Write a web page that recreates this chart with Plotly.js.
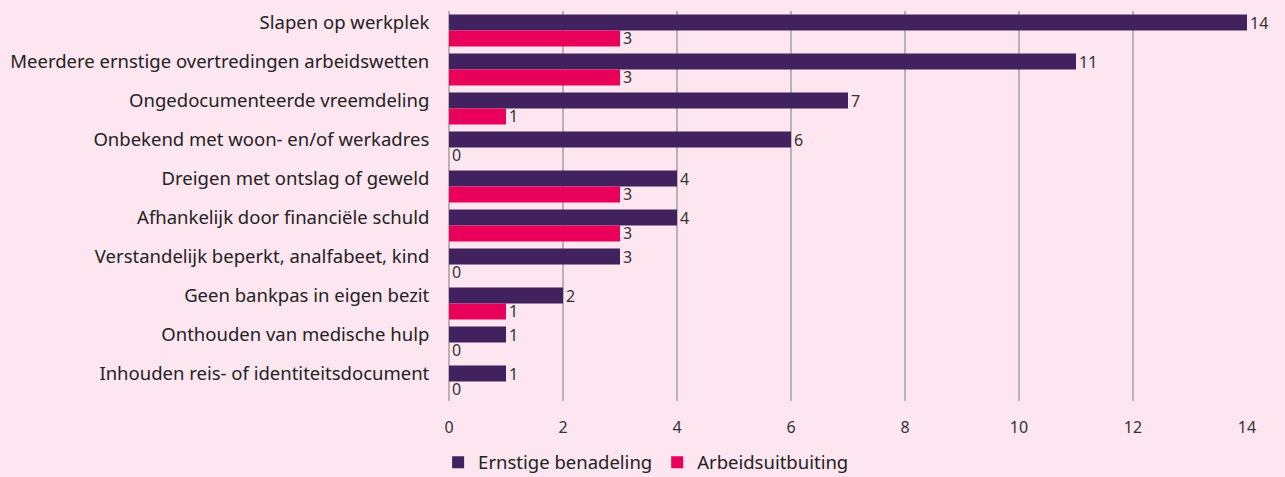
<!DOCTYPE html>
<html><head><meta charset="utf-8">
<script src="https://cdn.plot.ly/plotly-3.0.1.min.js"></script>
<style>html,body{margin:0;padding:0;background:#fde6ef;}</style>
</head><body>
<div id="chart" style="width:1285px;height:477px;"></div>
<script>
const categories = [
  "Slapen op werkplek",
  "Meerdere ernstige overtredingen arbeidswetten",
  "Ongedocumenteerde vreemdeling",
  "Onbekend met woon- en/of werkadres",
  "Dreigen met ontslag of geweld",
  "Afhankelijk door financiële schuld",
  "Verstandelijk beperkt, analfabeet, kind",
  "Geen bankpas in eigen bezit",
  "Onthouden van medische hulp",
  "Inhouden reis- of identiteitsdocument"
];
const ernstigeBenadeling = [14, 11, 7, 6, 4, 4, 3, 2, 1, 1];
const arbeidsuitbuiting = [3, 3, 1, 0, 3, 3, 0, 1, 0, 0];
const seriesNames = ["Ernstige benadeling", "Arbeidsuitbuiting"];
const xTicks = [0, 2, 4, 6, 8, 10, 12, 14];

const fontFam = "'Noto Sans', 'Open Sans', sans-serif";
const valFont = {size:16, color:'#333', family:fontFam};
const traces = [
  {type:'bar', orientation:'h', name:seriesNames[0], y:categories, x:ernstigeBenadeling,
   marker:{color:'#42215f'}, text:ernstigeBenadeling.map(String), textposition:'outside',
   constraintext:'none', cliponaxis:false, textfont:valFont, outsidetextfont:valFont},
  {type:'bar', orientation:'h', name:seriesNames[1], y:categories, x:arbeidsuitbuiting,
   marker:{color:'#e8005a'}, text:arbeidsuitbuiting.map(String), textposition:'outside',
   constraintext:'none', cliponaxis:false, textfont:valFont, outsidetextfont:valFont}
];
const layout = {
  width:1285, height:477,
  paper_bgcolor:'#fde6ef', plot_bgcolor:'#fde6ef',
  margin:{l:449, r:38, t:11, b:76, autoexpand:false},
  barmode:'group', bargap:0.18, bargroupgap:0,
  font:{family:fontFam, color:'#222', size:16},
  xaxis:{range:[0,14], tickvals:xTicks, ticktext:xTicks.map(String), showgrid:true,
         gridcolor:'#b9b1b6', gridwidth:1.5, zeroline:true, zerolinecolor:'#b9b1b6', zerolinewidth:1.5,
         tickfont:{size:16,color:'#333'}, ticks:'outside', ticklen:12, tickcolor:'rgba(0,0,0,0)', showline:false},
  yaxis:{autorange:'reversed', showgrid:false, ticks:'outside', ticklen:15, tickcolor:'rgba(0,0,0,0)',
         ticklabelshift:8,
         tickfont:{size:18.5,color:'#222'}, showline:false, zeroline:false, automargin:false},
  legend:{orientation:'h', x:0.247, xanchor:'center', yref:'container', y:0.03, yanchor:'middle',
          font:{size:18.5,color:'#222'}, traceorder:'normal', itemwidth:30},
  showlegend:true
};
Plotly.newPlot('chart', traces, layout, {displayModeBar:false, staticPlot:true});
</script>
</body></html>
